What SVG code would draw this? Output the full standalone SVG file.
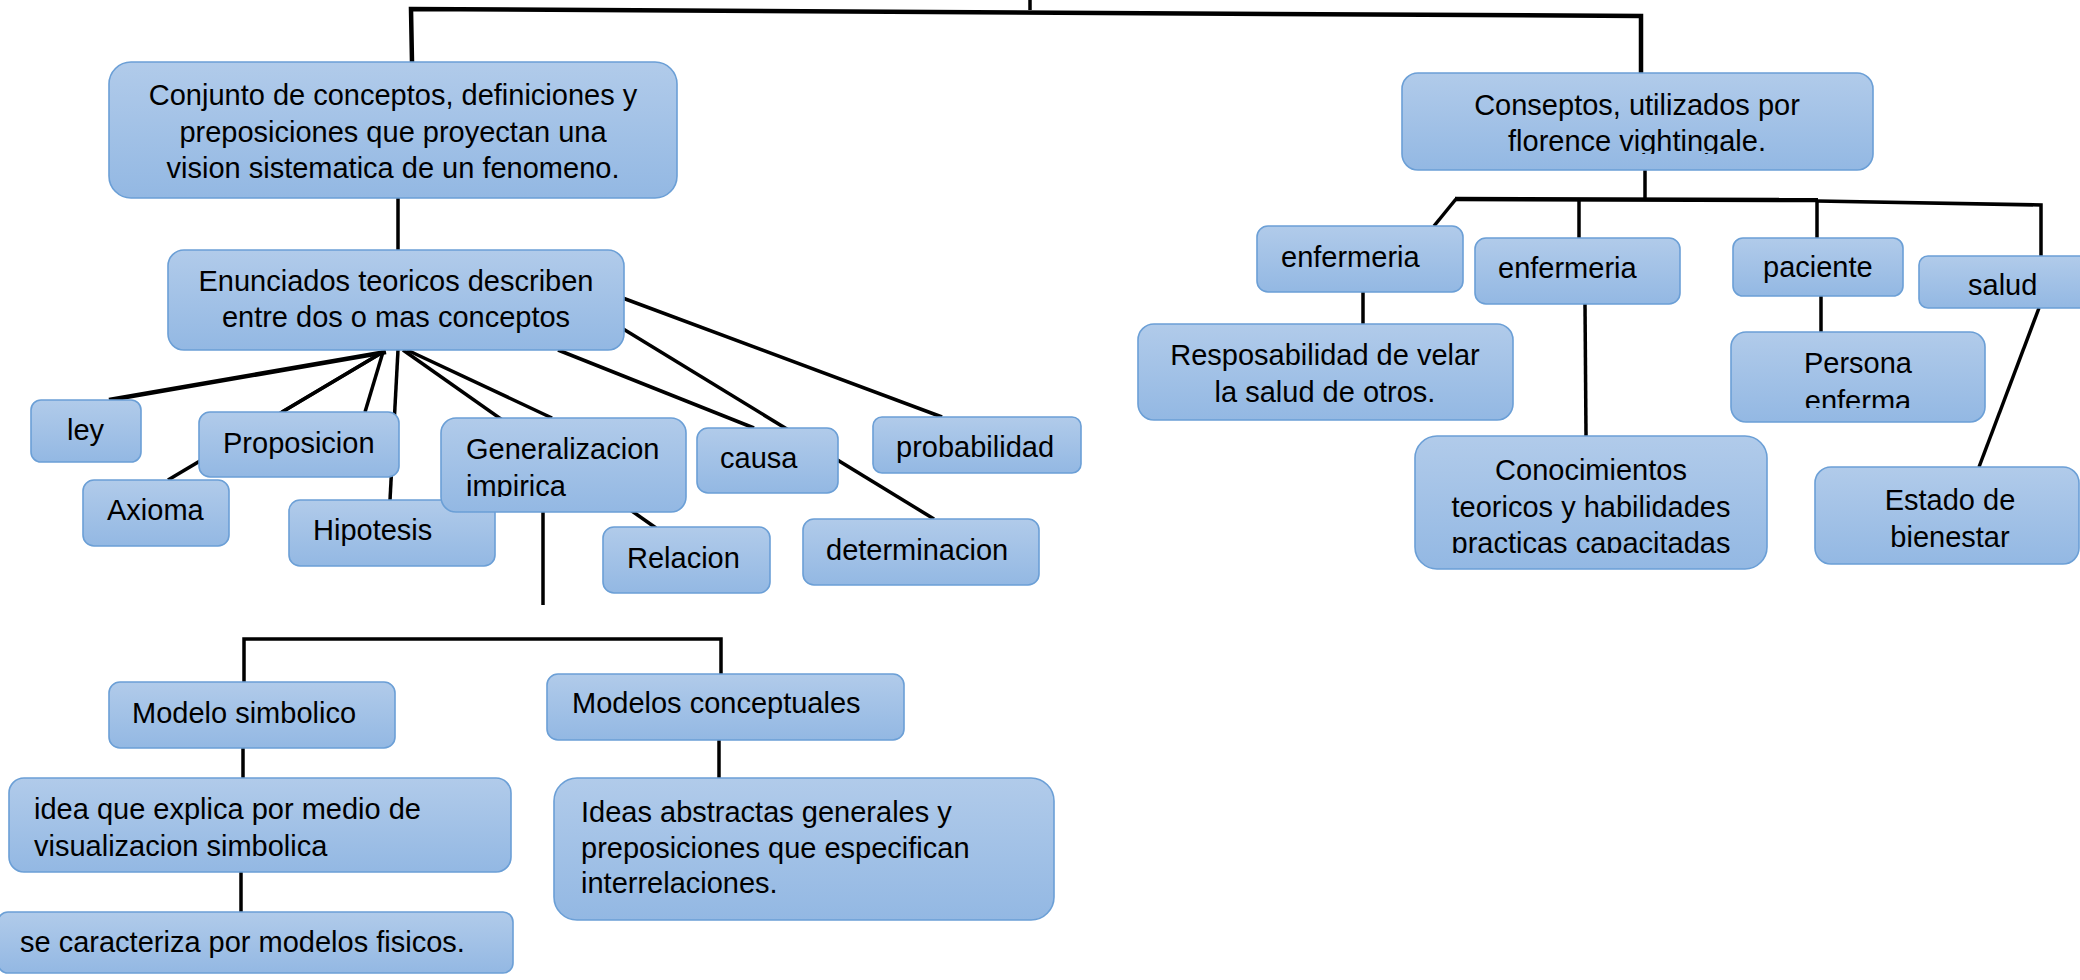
<svg xmlns="http://www.w3.org/2000/svg" width="2080" height="980" viewBox="0 0 2080 980">
<defs>
<linearGradient id="g" x1="0" y1="0" x2="0" y2="1">
<stop offset="0" stop-color="#b1cbea"/>
<stop offset="1" stop-color="#93b8e3"/>
</linearGradient>
<clipPath id="clipGen"><rect x="441" y="418" width="245" height="79"/></clipPath>
<clipPath id="clipCon"><rect x="1402" y="73" width="471" height="81"/></clipPath>
<clipPath id="clipPer"><rect x="1731" y="332" width="254" height="76"/></clipPath>
<clipPath id="clipCono"><rect x="1415" y="436" width="352" height="117"/></clipPath>
<style>
.box{fill:url(#g);stroke:#6b9fd6;stroke-width:1.6}
.t{font-family:"Liberation Sans",Arial,sans-serif;font-size:29px;fill:#000}
.c{text-anchor:middle}
.ln{stroke:#000;stroke-width:3.5;fill:none}
.thk{stroke-width:4.5}
</style>
</defs>
<rect width="2080" height="980" fill="#fff"/>
<g id="connectors">
<line class="ln" x1="1030" y1="0" x2="1030" y2="10"/>
<polyline class="ln thk" points="412,62 411,9 1641,16 1641,73"/>
<line class="ln" x1="398" y1="198" x2="398" y2="250"/>
<line class="ln thk" x1="386" y1="352" x2="109" y2="400"/>
<line class="ln" x1="383" y1="352" x2="282" y2="412"/>
<line class="ln" x1="383" y1="352" x2="365" y2="412"/>
<line class="ln" x1="398" y1="350" x2="390" y2="500"/>
<line class="ln" x1="383" y1="352" x2="168" y2="480"/>
<line class="ln" x1="403" y1="350" x2="656" y2="528"/>
<line class="ln" x1="407" y1="350" x2="552" y2="418"/>
<line class="ln" x1="558" y1="350" x2="754" y2="428"/>
<line class="ln" x1="620" y1="327" x2="934" y2="519"/>
<line class="ln" x1="620" y1="297" x2="942" y2="417"/>
<line class="ln" x1="543" y1="512" x2="543" y2="605"/>
<polyline class="ln" points="244,682 244,639 721,639 721,674"/>
<line class="ln" x1="243" y1="748" x2="243" y2="778"/>
<line class="ln" x1="719" y1="740" x2="719" y2="778"/>
<line class="ln" x1="241" y1="872" x2="241" y2="912"/>
<line class="ln" x1="1645" y1="170" x2="1645" y2="200"/>
<line class="ln thk" x1="1455" y1="199" x2="1818" y2="200"/>
<polyline class="ln" points="1817,201 2041,205 2041,256"/>
<line class="ln" x1="1456" y1="199" x2="1434" y2="226"/>
<line class="ln" x1="1579" y1="200" x2="1579" y2="238"/>
<line class="ln" x1="1817" y1="200" x2="1817" y2="238"/>
<line class="ln" x1="1363" y1="292" x2="1363" y2="324"/>
<line class="ln" x1="1585" y1="304" x2="1586" y2="436"/>
<line class="ln" x1="1821" y1="296" x2="1821" y2="332"/>
<line class="ln" x1="2039" y1="308" x2="1979" y2="467"/>
</g>
<g id="n-conjunto"><rect class="box" x="109" y="62" width="568" height="136" rx="22"/>
<text class="t c" x="393" y="105">Conjunto de conceptos, definiciones y</text>
<text class="t c" x="393" y="142">preposiciones que proyectan una</text>
<text class="t c" x="393" y="178">vision sistematica de un fenomeno.</text></g>
<g id="n-enunciados"><rect class="box" x="168" y="250" width="456" height="100" rx="16"/>
<text class="t c" x="396" y="291">Enunciados teoricos describen</text>
<text class="t c" x="396" y="327">entre dos o mas conceptos</text></g>
<g id="n-ley"><rect class="box" x="31" y="400" width="110" height="62" rx="10"/><text class="t" x="67" y="440">ley</text></g>
<g id="n-proposicion"><rect class="box" x="199" y="412" width="200" height="65" rx="11"/><text class="t" x="223" y="453">Proposicion</text></g>
<g id="n-axioma"><rect class="box" x="83" y="480" width="146" height="66" rx="11"/><text class="t" x="107" y="520">Axioma</text></g>
<g id="n-hipotesis"><rect class="box" x="289" y="500" width="206" height="66" rx="11"/><text class="t" x="313" y="540">Hipotesis</text></g>
<g id="n-generalizacion"><rect class="box" x="441" y="418" width="245" height="94" rx="15"/>
<g clip-path="url(#clipGen)"><text class="t" x="466" y="459">Generalizacion</text><text class="t" x="466" y="496">impirica</text></g></g>
<g id="n-causa"><rect class="box" x="697" y="428" width="141" height="65" rx="11"/><text class="t" x="720" y="468">causa</text></g>
<g id="n-probabilidad"><rect class="box" x="873" y="417" width="208" height="56" rx="9"/><text class="t" x="896" y="457">probabilidad</text></g>
<g id="n-relacion"><rect class="box" x="603" y="527" width="167" height="66" rx="11"/><text class="t" x="627" y="568">Relacion</text></g>
<g id="n-determinacion"><rect class="box" x="803" y="519" width="236" height="66" rx="11"/><text class="t" x="826" y="560">determinacion</text></g>
<g id="n-modelo-simbolico"><rect class="box" x="109" y="682" width="286" height="66" rx="11"/><text class="t" x="132" y="723">Modelo simbolico</text></g>
<g id="n-modelos-conceptuales"><rect class="box" x="547" y="674" width="357" height="66" rx="11"/><text class="t" x="572" y="713">Modelos conceptuales</text></g>
<g id="n-idea"><rect class="box" x="9" y="778" width="502" height="94" rx="15"/>
<text class="t" x="34" y="819">idea que explica por medio de</text>
<text class="t" x="34" y="856">visualizacion simbolica</text></g>
<g id="n-se-caracteriza"><rect class="box" x="-2" y="912" width="515" height="61" rx="10"/><text class="t" x="20" y="952">se caracteriza por modelos fisicos.</text></g>
<g id="n-ideas-abstractas"><rect class="box" x="554" y="778" width="500" height="142" rx="23"/>
<text class="t" x="581" y="822">Ideas abstractas generales y</text>
<text class="t" x="581" y="858">preposiciones que especifican</text>
<text class="t" x="581" y="893">interrelaciones.</text></g>
<g id="n-conseptos"><rect class="box" x="1402" y="73" width="471" height="97" rx="16"/>
<g clip-path="url(#clipCon)"><text class="t c" x="1637" y="115">Conseptos, utilizados por</text><text class="t c" x="1637" y="151">florence vightingale.</text></g></g>
<g id="n-enfermeria1"><rect class="box" x="1257" y="226" width="206" height="66" rx="11"/><text class="t" x="1281" y="267">enfermeria</text></g>
<g id="n-enfermeria2"><rect class="box" x="1475" y="238" width="205" height="66" rx="11"/><text class="t" x="1498" y="278">enfermeria</text></g>
<g id="n-paciente"><rect class="box" x="1733" y="238" width="170" height="58" rx="10"/><text class="t" x="1763" y="277">paciente</text></g>
<g id="n-salud"><rect class="box" x="1919" y="256" width="180" height="52" rx="9"/><text class="t" x="1968" y="295">salud</text></g>
<g id="n-responsabilidad"><rect class="box" x="1138" y="324" width="375" height="96" rx="16"/>
<text class="t c" x="1325" y="365">Resposabilidad de velar</text>
<text class="t c" x="1325" y="402">la salud de otros.</text></g>
<g id="n-conocimientos"><rect class="box" x="1415" y="436" width="352" height="133" rx="22"/>
<g clip-path="url(#clipCono)"><text class="t c" x="1591" y="480">Conocimientos</text><text class="t c" x="1591" y="517">teoricos y habilidades</text><text class="t c" x="1591" y="553">practicas capacitadas</text></g></g>
<g id="n-persona"><rect class="box" x="1731" y="332" width="254" height="90" rx="15"/>
<g clip-path="url(#clipPer)"><text class="t c" x="1858" y="373">Persona</text><text class="t c" x="1858" y="411">enferma</text></g></g>
<g id="n-estado"><rect class="box" x="1815" y="467" width="264" height="97" rx="16"/>
<text class="t c" x="1950" y="510">Estado de</text>
<text class="t c" x="1950" y="547">bienestar</text></g>
</svg>
